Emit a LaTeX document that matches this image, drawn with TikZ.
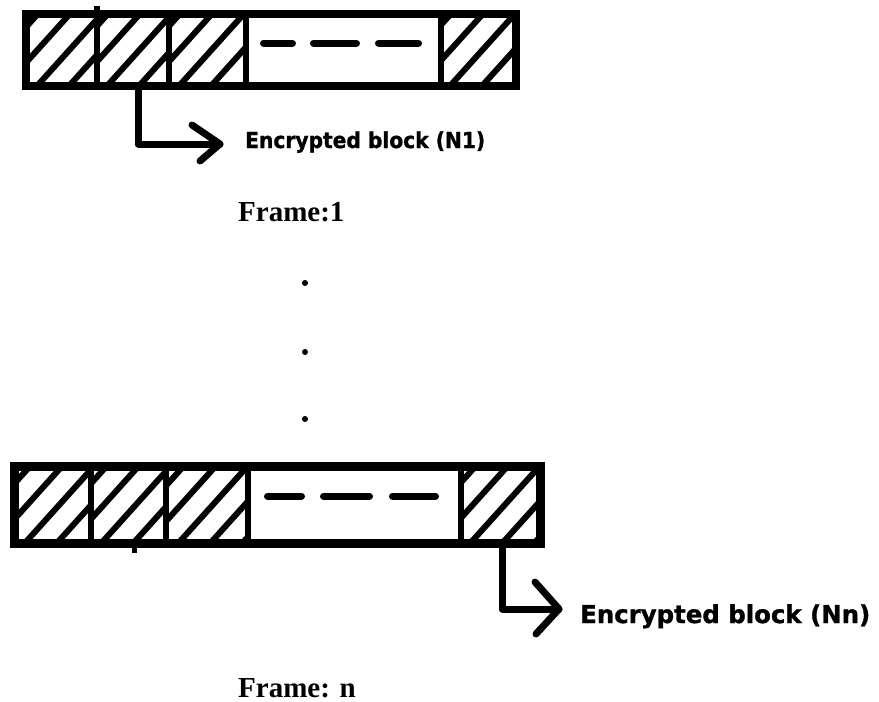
\documentclass[tikz,border=0pt]{standalone}
\usepackage{graphicx}
\usepackage{fontspec}
\setmainfont{Liberation Serif}
\newfontfamily\encfont{DejaVu Sans}[BoldFeatures={FakeBold=1.2}]
\newcommand\hatchcell[5]{%
  \begin{scope}
    \clip (#1,#2) rectangle (#3,#4);
    \foreach \k in {-3,...,3}{\draw[hatch] ({#1+#5+\k*32},#4) -- ++(90,-100);}
  \end{scope}}
\begin{document}
\begin{tikzpicture}[x=1pt,y=-1pt,
  frame/.style={draw=black,line width=8pt,inner sep=0pt,outer sep=0pt,anchor=north west},
  divider/.style={line width=6pt},
  hatch/.style={line width=6pt},
  dashmark/.style={line width=7pt,line cap=round},
  conn/.style={line width=7pt,line cap=round,line join=round},
  enc/.style={inner sep=0pt,anchor=base west,font=\encfont\bfseries},
  framelabel/.style={inner sep=0pt,anchor=base west,font=\bfseries\fontsize{29}{34}\selectfont},
  dotnode/.style={circle,fill=black,inner sep=0pt,minimum size=6pt}]
\useasboundingbox (0,0) rectangle (879,702);
\fill[white] (0,0) rectangle (879,702);

% ---------- Frame 1 ----------
\hatchcell{26}{14}{97}{86}{11}
\hatchcell{97}{14}{169}{86}{10}
\hatchcell{169}{14}{246}{86}{10}
\hatchcell{441}{14}{516}{86}{9}
\node[frame,minimum width=490pt,minimum height=72pt] (frame1) at (26,14) {};
\draw[divider] (97,6) -- (97,86);
\draw[divider] (169,14) -- (169,86);
\draw[divider] (246,14) -- (246,86);
\draw[divider] (441,14) -- (441,86);
\draw[dashmark] (263.5,43) -- (292.5,43);
\draw[dashmark] (313.5,43) -- (356.5,43);
\draw[dashmark] (378.5,43) -- (418.5,43);

\coordinate (s1) at (138,86);
\coordinate (t1) at (220,144);
\draw[conn] (s1) |- (t1);
\draw[conn] ([shift={(-28,-19)}]t1) -- (t1) -- ([shift={(-20,17)}]t1);
\node[enc] (enc1) at (245,148) {\resizebox{240pt}{\height}{\fontsize{22}{26}\selectfont Encrypted block (N1)}};

\node[framelabel] (lab1) at (238,221) {Frame:1};

% ---------- dots ----------
\node[dotnode] (d1) at (305,283) {};
\node[dotnode] (d2) at (305,352) {};
\node[dotnode] (d3) at (305,419) {};

% ---------- Frame n ----------
\hatchcell{14.5}{466.5}{91}{543.5}{10}
\hatchcell{91}{466.5}{166}{543.5}{10}
\hatchcell{166}{466.5}{248}{543.5}{12}
\hatchcell{461}{466.5}{540.5}{543.5}{9}
\node[frame,line width=9pt,minimum width=526pt,minimum height=77pt] (framen) at (14.5,466.5) {};
\draw[divider] (91,466.5) -- (91,543.5);
\draw[divider] (166,466.5) -- (166,543.5);
\draw[divider] (248,466.5) -- (248,543.5);
\draw[divider] (461,466.5) -- (461,543.5);
\draw[line width=5pt] (134,543) -- (134,553);
\draw[dashmark] (267.5,496) -- (301.5,496);
\draw[dashmark] (323.5,496) -- (369.5,496);
\draw[dashmark] (392.5,496) -- (435.5,496);

\coordinate (s2) at (502,543.5);
\coordinate (t2) at (559,609);
\draw[conn] (s2) |- (t2);
\draw[conn] ([shift={(-24,-27)}]t2) -- (t2) -- ([shift={(-23,25)}]t2);
\node[enc] (encn) at (580,623) {\resizebox{290pt}{\height}{\fontsize{24.7}{29}\selectfont Encrypted block (Nn)}};

\node[framelabel] (labn) at (238,697) {Frame: n};
\end{tikzpicture}
\end{document}
